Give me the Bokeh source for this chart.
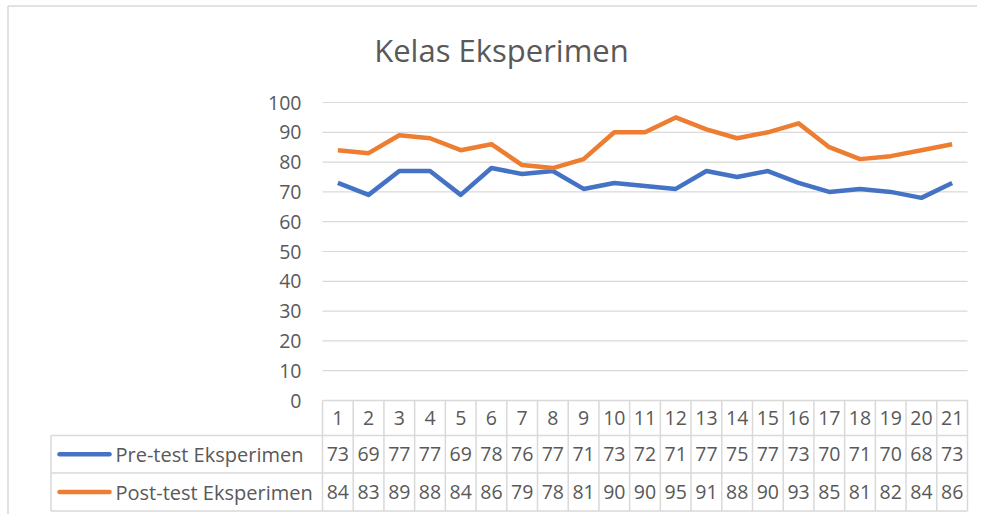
from bokeh.plotting import figure
from bokeh.models import Range1d
from bokeh.core.properties import value
from bokeh.embed import file_html
from bokeh.resources import INLINE

# ---------------- data ----------------
categories = [str(i) for i in range(1, 22)]
pre_test = [73, 69, 77, 77, 69, 78, 76, 77, 71, 73, 72, 71, 77, 75, 77, 73, 70, 71, 70, 68, 73]
post_test = [84, 83, 89, 88, 84, 86, 79, 78, 81, 90, 90, 95, 91, 88, 90, 93, 85, 81, 82, 84, 86]
y_ticks = [0, 10, 20, 30, 40, 50, 60, 70, 80, 90, 100]
series_names = ["Pre-test Eksperimen", "Post-test Eksperimen"]
title_text = "Kelas Eksperimen"

# ---------------- layout (figure pixels) ----------------
W, H = 977, 514
OFF = 0
plot_left, plot_right = 322 - OFF, 967 - OFF
plot_top, plot_bottom = 102 - OFF, 400 - OFF
n = len(categories)
ymax = 100
px_per_x = (plot_right - plot_left) / n
px_per_y = (plot_bottom - plot_top) / ymax
x_start = 0.5 - plot_left / px_per_x
x_end = x_start + W / px_per_x
y_end = ymax + plot_top / px_per_y
y_start = y_end - H / px_per_y


def fx(px):
    return x_start + px / px_per_x


def fy(py):
    return y_end - py / px_per_y


FONT = value("Open Sans")
TXT = "#595959"
GRID = "#d9d9d9"
BLUE = "#4472C4"
ORANGE = "#ED7D31"
FS = "19.5px"

p = figure(width=W, height=H, x_range=Range1d(x_start, x_end), y_range=Range1d(y_start, y_end),
           x_axis_location=None, y_axis_location=None, min_border=0,
           toolbar_location=None, output_backend="svg")
p.grid.visible = False
p.outline_line_color = None
p.background_fill_color = "white"
p.border_fill_color = "white"

# chart border (left & top)
p.segment(x0=[fx(7.5), fx(7.5)], y0=[fy(5.5), fy(5.5)], x1=[fx(7.5), x_end], y1=[y_start, fy(5.5)],
          line_color=GRID, line_width=1.5)

# title
p.text(x=[fx(501 - OFF)], y=[fy(49 - OFF)], text=[title_text], text_font=FONT,
       text_font_size="31px", text_color=TXT, text_align="center", text_baseline="middle")

# gridlines
x0g = 0.5
x1g = n + 0.5
p.segment(x0=[x0g] * len(y_ticks), x1=[x1g] * len(y_ticks), y0=y_ticks, y1=y_ticks,
          line_color=GRID, line_width=1.2)

# y tick labels
p.text(x=[fx(301 - OFF)] * len(y_ticks), y=y_ticks, text=[str(t) for t in y_ticks],
       text_font=FONT, text_font_size=FS, text_color=TXT,
       text_align="right", text_baseline="middle")

# series lines
xs = list(range(1, n + 1))
p.line(xs, pre_test, line_color=BLUE, line_width=4.5, line_join="round")
p.line(xs, post_test, line_color=ORANGE, line_width=4.5, line_join="round")

# ---------------- data table ----------------
row_edges_px = [400 - OFF, 435 - OFF, 472.5 - OFF, 510.5 - OFF]
row_edges = [fy(v) for v in row_edges_px]
legend_left = fx(50.5 - OFF)

# horizontal lines
hx0 = [x0g, legend_left, legend_left, legend_left]
p.segment(x0=hx0, x1=[x1g] * 4, y0=row_edges, y1=row_edges, line_color=GRID, line_width=1.5)
# vertical lines
vx = [0.5 + k for k in range(n + 1)]
p.segment(x0=vx, x1=vx, y0=[row_edges[0]] * len(vx), y1=[row_edges[3]] * len(vx),
          line_color=GRID, line_width=1.5)
p.segment(x0=[legend_left], x1=[legend_left], y0=[row_edges[1]], y1=[row_edges[3]],
          line_color=GRID, line_width=1.5)

row_centers = [(row_edges[i] + row_edges[i + 1]) / 2 for i in range(3)]

# header
p.text(x=xs, y=[row_centers[0]] * n, text=categories, text_font=FONT, text_font_size=FS,
       text_color=TXT, text_align="center", text_baseline="middle")
# values
for r, vals in enumerate([pre_test, post_test]):
    p.text(x=xs, y=[row_centers[r + 1]] * n, text=[str(v) for v in vals], text_font=FONT,
           text_font_size=FS, text_color=TXT, text_align="center", text_baseline="middle")

# legend keys and names
key_x0, key_x1 = fx(59 - OFF), fx(109 - OFF)
p.segment(x0=[key_x0, key_x0], x1=[key_x1, key_x1], y0=row_centers[1:], y1=row_centers[1:],
          line_color=[BLUE, ORANGE], line_width=4.5, line_cap="round")
p.text(x=[fx(115 - OFF)] * 2, y=row_centers[1:], text=series_names, text_font=FONT,
       text_font_size="20px", text_color=TXT, text_align="left", text_baseline="middle")

open("out.html", "w").write(file_html(p, INLINE))
